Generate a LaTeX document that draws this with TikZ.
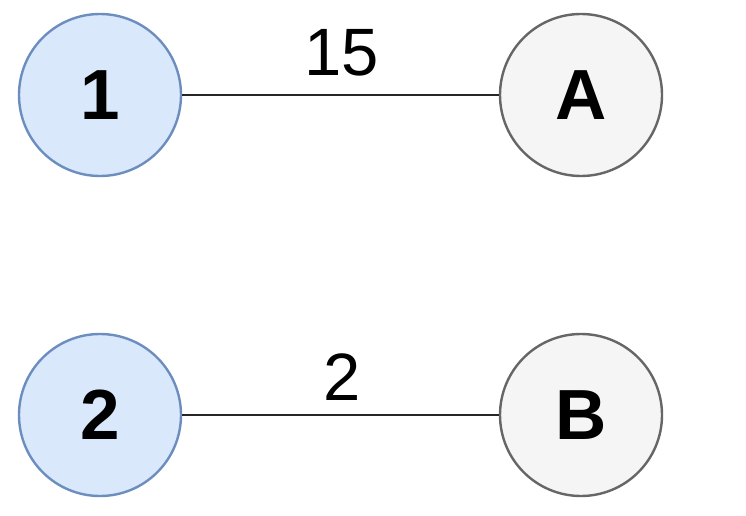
\documentclass[tikz,border=0pt]{standalone}
\usepackage{fontspec}
\setmainfont{Liberation Sans}
\begin{document}
\begin{tikzpicture}[x=1pt,y=-1pt,
  blueball/.style={circle,draw=blueedge,fill=bluefill,line width=2.4pt,minimum size=162pt,inner sep=0pt,font=\fontsize{71}{80}\selectfont\bfseries},
  greyball/.style={circle,draw=greyedge,fill=greyfill,line width=2.4pt,minimum size=162pt,inner sep=0pt,font=\fontsize{71}{80}\selectfont\bfseries},
  link/.style={draw=black!85,line width=2.8pt},
  weight/.style={font=\fontsize{67}{76}\selectfont,inner sep=0pt}]
\definecolor{bluefill}{HTML}{DAE8FC}
\definecolor{blueedge}{HTML}{6C8EBF}
\definecolor{greyfill}{HTML}{F5F5F5}
\definecolor{greyedge}{HTML}{666666}
\useasboundingbox (0,0) rectangle (746,516);
\node[blueball] (n1) at (100,95) {1};
\node[greyball] (nA) at (581,95) {A};
\node[blueball] (n2) at (100,415) {2};
\node[greyball] (nB) at (581,415) {B};
\draw[link] (n1) -- (nA);
\draw[link] (n2) -- (nB);
\node[weight] (w1) at (342,53) {15};
\node[weight] (w2) at (342,377) {2};
\end{tikzpicture}
\end{document}
